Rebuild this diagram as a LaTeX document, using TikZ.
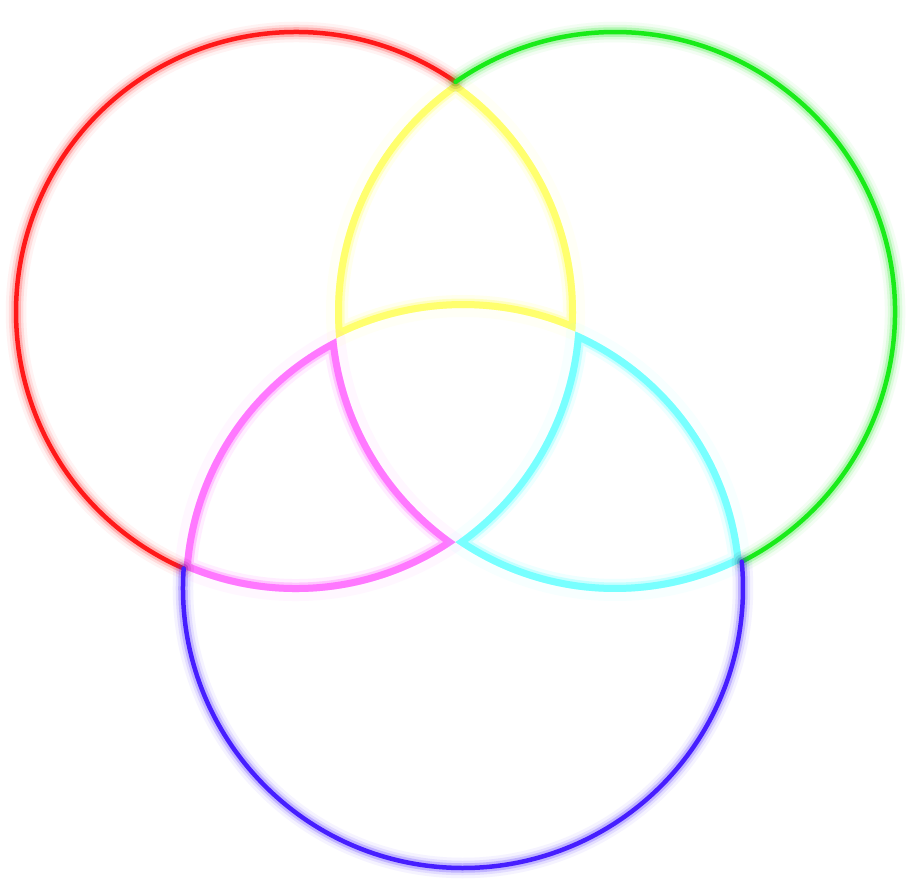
\documentclass[tikz,border=0pt]{standalone}
\definecolor{nred}{RGB}{255,25,25}
\definecolor{ngreen}{RGB}{25,235,25}
\definecolor{nblue}{RGB}{70,30,255}
\definecolor{nyellow}{RGB}{255,255,110}
\definecolor{nmagenta}{RGB}{255,120,255}
\definecolor{ncyan}{RGB}{120,255,255}
\tikzset{
  neon/.style 2 args={draw=#1, line width=#2, line cap=round,
    preaction={draw=#1, draw opacity=0.05, line width=#2+16pt, line cap=round},
    preaction={draw=#1, draw opacity=0.10, line width=#2+10pt, line cap=round},
    preaction={draw=#1, draw opacity=0.22, line width=#2+5pt, line cap=round}},
  primary/.style={neon={#1}{4.5pt}},
  pastelcore/.style={draw=#1, line width=14pt, line join=miter,
    preaction={draw=#1, draw opacity=0.30, line width=19pt},
    preaction={draw=#1, draw opacity=0.12, line width=26pt}},
  pastelhalo/.style={draw=#1, draw opacity=0.06, line width=18pt, line join=round},
}
\newcommand\pastelregion[2]{%
  \draw[pastelhalo=#1] #2;
  \begin{scope}
    \clip #2;
    \draw[pastelcore=#1] #2;
  \end{scope}}
\begin{document}
\begin{tikzpicture}[x=1pt,y=1pt]
\useasboundingbox[fill=white] (0,0) rectangle (917,887);
\coordinate (R) at (296,575);
\coordinate (G) at (615,575);
\coordinate (B) at (463,299);
% yellow: red and green, outside blue
\pastelregion{nyellow}{(R) ++(55.28:280) arc[start angle=55.28, end angle=-4.0, radius=280]
  arc[start angle=66.35, end angle=116.92, radius=280]
  arc[start angle=185.39, end angle=124.72, radius=280] -- cycle}
% magenta: red and blue, outside green
\pastelregion{nmagenta}{(B) ++(176.0:280) arc[start angle=176.0, end angle=116.92, radius=280]
  arc[start angle=185.39, end angle=235.28, radius=280]
  arc[start angle=-55.28, end angle=-113.65, radius=280] -- cycle}
% cyan: green and blue, outside red
\pastelregion{ncyan}{(R) ++(-4.0:280) arc[start angle=-4.0, end angle=-55.28, radius=280]
  arc[start angle=235.28, end angle=296.92, radius=280]
  arc[start angle=5.39, end angle=66.35, radius=280] -- cycle}
% primary outer arcs
\draw[primary=nred] (R) ++(55.28:280) arc[start angle=55.28, end angle=246.35, radius=280];
\draw[primary=ngreen] (G) ++(-63.08:280) arc[start angle=-63.08, end angle=124.72, radius=280];
\draw[primary=nblue] (B) ++(176.0:280) arc[start angle=176.0, end angle=365.39, radius=280];
\end{tikzpicture}
\end{document}
